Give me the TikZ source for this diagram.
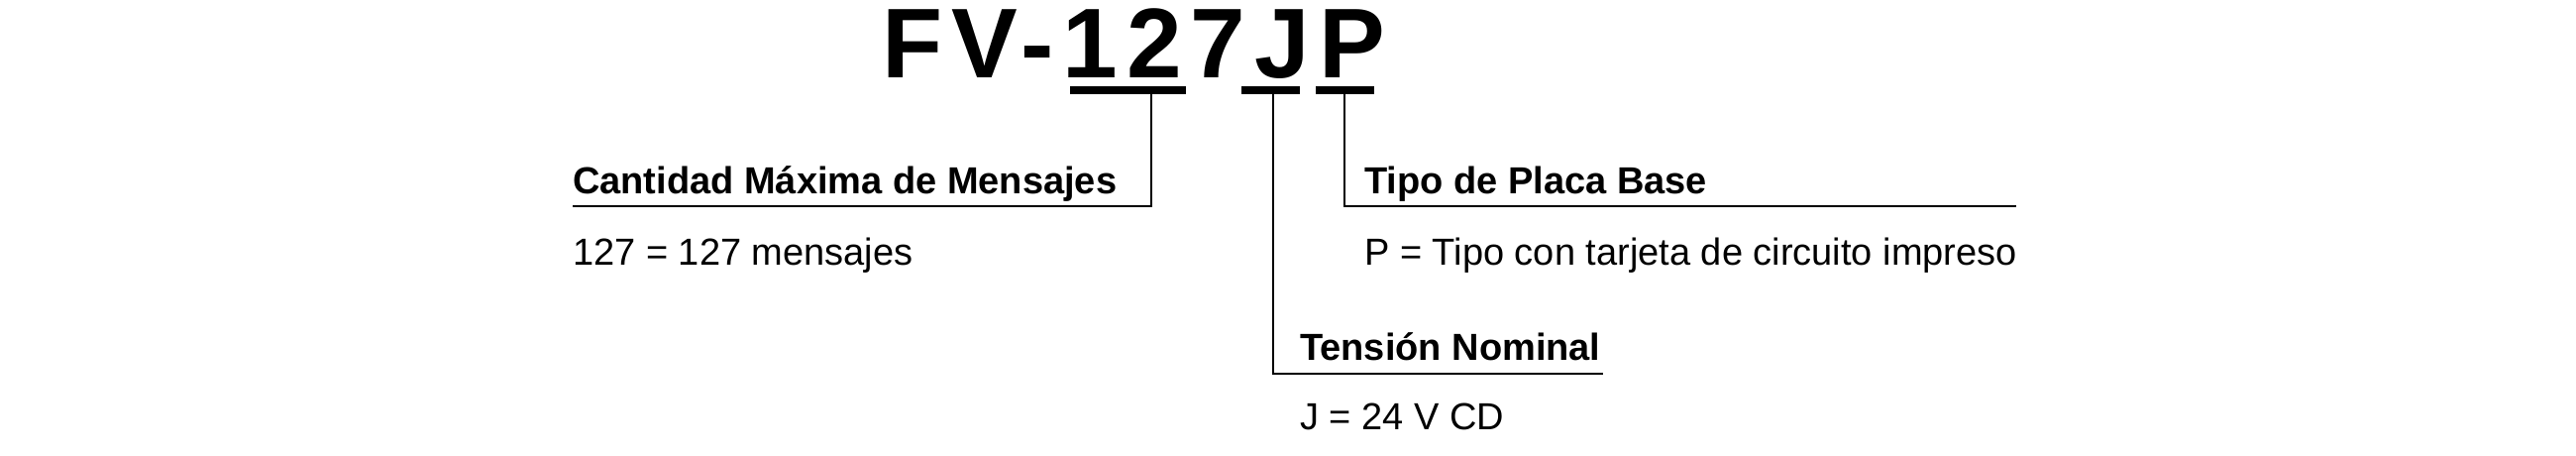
\documentclass[tikz,border=0pt]{standalone}
\usepackage{fontspec}
\setmainfont{Liberation Sans}
\newfontfamily\titlefont[LetterSpace=9]{Liberation Sans}
\usetikzlibrary{positioning}

\begin{document}
\begin{tikzpicture}[
        x=1pt, y=1pt,
        inner sep=0pt,
        head/.style={anchor=base west, font=\fontsize{38}{40}\selectfont\bfseries},
        value/.style={anchor=base west, font=\fontsize{38}{40}\selectfont},
        bar/.style={fill=black},
        leader/.style={line width=1.6pt},
    ]
        \useasboundingbox (0,0) rectangle (2600,-460);
        % model code
        \node [anchor=base west, font=\fontsize{100}{100}\selectfont\titlefont\bfseries] (code) at (890,-78) {FV-127JP};
        \fill [bar] (1080,-87) rectangle (1197,-95);
        \fill [bar] (1253,-87) rectangle (1312,-95);
        \fill [bar] (1328,-87) rectangle (1387,-95);
        \coordinate (bar1) at (1162,-95);
        \coordinate (bar2) at (1285,-95);
        \coordinate (bar3) at (1357,-95);
        % captions
        \node [head] (maxhead) at (578,-195) {Cantidad Máxima de Mensajes};
        \node [value] (maxval) at (578,-267) {127 = 127 mensajes};
        \node [head] (volthead) at (1312,-363) {Tensión Nominal};
        \node [value] (voltval) at (1312,-433) {J = 24 V CD};
        \node [head] (boardhead) at (1377,-195) {Tipo de Placa Base};
        \node [value] (boardval) at (1377,-267) {P = Tipo con tarjeta de circuito impreso};
        \coordinate (c1) at (578,-208);
        \coordinate (c2) at (1618,-377);
        \coordinate (c3) at (2035,-208);
        % leaders
        \draw [leader] (bar1) |- (c1);
        \draw [leader] (bar2) |- (c2);
        \draw [leader] (bar3) |- (c3);
\end{tikzpicture}
\end{document}
